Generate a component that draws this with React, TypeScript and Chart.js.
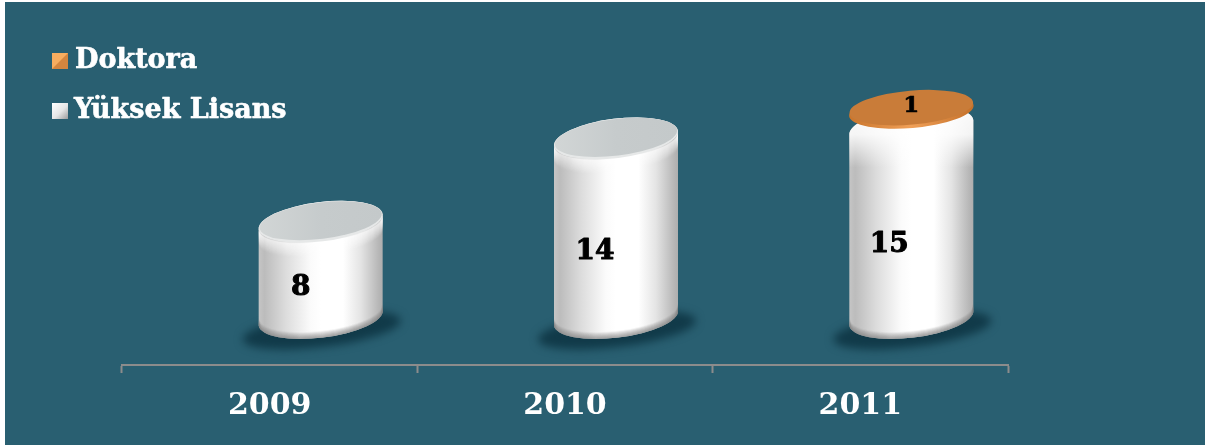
import React, { useEffect, useRef } from "react";
import { Chart, registerables } from "chart.js";

Chart.register(...registerables);

const years = ["2009", "2010", "2011"];
const yuksekLisans = [8, 14, 15];
const doktora = [null, null, 1];

const FONT = '"DejaVu Serif", serif';
const PANEL = "#295f71";

// Oblique projection of the columns relative to the category band
const DEPTH_X = 51;
const DEPTH_TOP = -32;
const DEPTH_BOTTOM = -47;
const TILT = (-7 * Math.PI) / 180;
const RY = 19.7;
// A column carrying a disc starts a little lower, so only its shoulders show
const CAPPED_DROP = 3;

// Nudges of the value labels from the centre of their column
const lisansLabelShift = [[-20, 18], [-21, 24], [-22, 23]];
const doktoraLabelShift = [null, null, [0, -5]];

type Ctx = CanvasRenderingContext2D;

function heavyText(ctx: Ctx, text: string, x: number, y: number, weight: number) {
  ctx.lineWidth = weight;
  ctx.lineJoin = "round";
  ctx.strokeText(text, x, y);
  ctx.fillText(text, x, y);
}

function bodyPath(ctx: Ctx, cx: number, top: number, bottom: number, rx: number) {
  ctx.beginPath();
  ctx.ellipse(cx, bottom, rx, RY, TILT, 0, Math.PI);
  ctx.ellipse(cx, top, rx, RY, TILT, Math.PI, Math.PI * 2);
  ctx.closePath();
}

function drawShadow(ctx: Ctx, cx: number, bottom: number, rx: number) {
  ctx.save();
  ctx.filter = "blur(4px)";
  ctx.fillStyle = "#113a49";
  ctx.beginPath();
  ctx.ellipse(cx + 1, bottom + 12, rx + 17, 17, TILT, 0, Math.PI * 2);
  ctx.fill();
  ctx.restore();
}

function drawColumn(ctx: Ctx, cx: number, top: number, bottom: number, rx: number, capped: boolean) {
  const g = ctx.createLinearGradient(cx - rx, 0, cx + rx, 0);
  g.addColorStop(0, "#c6c6c6");
  g.addColorStop(0.05, "#bcbcbc");
  g.addColorStop(0.22, "#dcdcdc");
  g.addColorStop(0.42, "#fbfbfb");
  g.addColorStop(0.5, "#ffffff");
  g.addColorStop(0.68, "#ffffff");
  g.addColorStop(0.82, "#e4e4e4");
  g.addColorStop(0.96, "#b8b8b8");
  g.addColorStop(1, "#adadad");
  ctx.save();
  bodyPath(ctx, cx, top, bottom, rx);
  ctx.fillStyle = g;
  ctx.fill();
  ctx.clip();

  if (capped) {
    // White shoulder fading down into the shaded side
    const veil = ctx.createLinearGradient(0, top - 20, 0, top + 40);
    veil.addColorStop(0, "rgba(255,255,255,0.95)");
    veil.addColorStop(0.45, "rgba(255,255,255,0.85)");
    veil.addColorStop(1, "rgba(255,255,255,0)");
    ctx.fillStyle = veil;
    ctx.fillRect(cx - rx - 1, top - 30, rx * 2 + 2, 70);
  }

  // Soft bevels along the lower rim and under the upper rim
  for (let i = 0; i < 7; i++) {
    ctx.strokeStyle = `rgba(130,130,130,${0.6 - i * 0.085})`;
    ctx.lineWidth = 1.5;
    ctx.beginPath();
    ctx.ellipse(cx, bottom - i, rx, RY, TILT, 0, Math.PI);
    ctx.stroke();
  }
  if (!capped) {
    for (let i = 0; i < 14; i++) {
      ctx.strokeStyle = `rgba(255,255,255,${0.5 - i * 0.036})`;
      ctx.lineWidth = 1.5;
      ctx.beginPath();
      ctx.ellipse(cx, top + 1 + i, rx, RY, TILT, 0, Math.PI);
      ctx.stroke();
    }
  }
  ctx.restore();

  if (!capped) {
    const face = ctx.createLinearGradient(cx - rx, top, cx + rx, top);
    face.addColorStop(0, "#d2d6d6");
    face.addColorStop(0.5, "#c6cbcc");
    face.addColorStop(1, "#c4c9ca");
    ctx.fillStyle = "#e6e8e8";
    ctx.beginPath();
    ctx.ellipse(cx, top, rx, RY, TILT, 0, Math.PI * 2);
    ctx.fill();
    ctx.fillStyle = face;
    ctx.beginPath();
    ctx.ellipse(cx, top - 1, rx - 1, RY - 1.5, TILT, 0, Math.PI * 2);
    ctx.fill();
  }
}

function drawDisc(ctx: Ctx, cx: number, top: number, rx: number) {
  const ry = 17.5;
  const tilt = (-5 * Math.PI) / 180;
  const rim = ctx.createLinearGradient(cx - rx, 0, cx + rx, 0);
  rim.addColorStop(0, "#c9752c");
  rim.addColorStop(0.5, "#f0a058");
  rim.addColorStop(1, "#c47029");
  ctx.fillStyle = rim;
  ctx.beginPath();
  ctx.ellipse(cx, top + 3, rx, ry, tilt, 0, Math.PI * 2);
  ctx.fill();
  ctx.fillStyle = "#c97c39";
  ctx.beginPath();
  ctx.ellipse(cx, top, rx - 0.5, ry - 0.5, tilt, 0, Math.PI * 2);
  ctx.fill();
}

function drawLegendSwatch(ctx: Ctx, x: number, y: number, s: number, light: string, dark: string, flat: boolean) {
  if (flat) {
    const g = ctx.createLinearGradient(x, y, x + s, y + s);
    g.addColorStop(0, "#ffffff");
    g.addColorStop(0.55, "#e6e6e6");
    g.addColorStop(1, "#9c9c9c");
    ctx.fillStyle = g;
    ctx.fillRect(x, y, s, s);
    return;
  }
  ctx.fillStyle = dark;
  ctx.fillRect(x, y, s, s);
  ctx.fillStyle = light;
  ctx.beginPath();
  ctx.moveTo(x, y);
  ctx.lineTo(x + s, y);
  ctx.lineTo(x, y + s);
  ctx.closePath();
  ctx.fill();
}

const panelPlugin = {
  id: "panel",
  beforeDraw(chart: any) {
    const { ctx, width, height } = chart;
    ctx.save();
    ctx.fillStyle = "#ffffff";
    ctx.fillRect(0, 0, width, height);
    ctx.fillStyle = PANEL;
    ctx.fillRect(5, 2, 1200, 443);
    ctx.restore();
  },
};

const columnsPlugin = {
  id: "columns",
  afterDatasetsDraw(chart: any) {
    const ctx: Ctx = chart.ctx;
    const lower = chart.getDatasetMeta(0).data;
    const upper = chart.getDatasetMeta(1).data;
    ctx.save();
    lower.forEach((bar: any) => {
      drawShadow(ctx, bar.x + DEPTH_X, bar.base + DEPTH_BOTTOM, bar.width / 2);
    });
    lower.forEach((bar: any, i: number) => {
      const cx = bar.x + DEPTH_X;
      const rx = bar.width / 2;
      const capped = doktora[i] != null;
      const top = bar.y + DEPTH_TOP + (capped ? CAPPED_DROP : 0);
      const bottom = bar.base + DEPTH_BOTTOM;
      drawColumn(ctx, cx, top, bottom, rx, capped);
      if (capped) drawDisc(ctx, cx, upper[i].y + DEPTH_TOP - 3, rx);
    });

    ctx.fillStyle = "#000000";
    ctx.strokeStyle = "#000000";
    ctx.textAlign = "center";
    ctx.textBaseline = "middle";
    lower.forEach((bar: any, i: number) => {
      const cx = bar.x + DEPTH_X;
      const cy = (bar.y + DEPTH_TOP + bar.base + DEPTH_BOTTOM) / 2;
      const [dx, dy] = lisansLabelShift[i];
      ctx.font = `bold 28px ${FONT}`;
      heavyText(ctx, String(yuksekLisans[i]), cx + dx, cy + dy, 1);
      const shift = doktoraLabelShift[i];
      if (doktora[i] != null && shift) {
        ctx.font = `bold 23px ${FONT}`;
        heavyText(ctx, String(doktora[i]), cx + shift[0], upper[i].y + DEPTH_TOP + shift[1], 0.6);
      }
    });
    ctx.restore();
  },
};

const legendPlugin = {
  id: "stackLegend",
  afterDraw(chart: any) {
    const ctx: Ctx = chart.ctx;
    const items = [chart.data.datasets[1].label, chart.data.datasets[0].label];
    ctx.save();
    ctx.font = `bold 27px ${FONT}`;
    ctx.fillStyle = "#ffffff";
    ctx.strokeStyle = "#ffffff";
    ctx.textAlign = "left";
    ctx.textBaseline = "middle";
    heavyText(ctx, items[0], 75, 61, 0.6);
    heavyText(ctx, items[1], 74, 111, 0.6);
    drawLegendSwatch(ctx, 52, 53, 16, "#f8ad5f", "#d5863f", false);
    drawLegendSwatch(ctx, 52, 103, 16, "", "", true);
    ctx.restore();
  },
};

export default function App() {
  const ref = useRef<HTMLCanvasElement>(null);

  useEffect(() => {
    document.body.style.margin = "0";
    const chart = new Chart(ref.current!, {
      type: "bar",
      data: {
        labels: years,
        datasets: [
          { label: "Yüksek Lisans", data: yuksekLisans, backgroundColor: "rgba(0,0,0,0)" },
          { label: "Doktora", data: doktora, backgroundColor: "rgba(0,0,0,0)" },
        ],
      },
      options: {
        responsive: false,
        animation: false,
        events: [],
        layout: { padding: { left: 122, right: 199, top: 87, bottom: 0 } },
        datasets: { bar: { categoryPercentage: 1, barPercentage: 0.423 } },
        plugins: { legend: { display: false }, tooltip: { enabled: false }, title: { display: false } },
        scales: {
          x: {
            stacked: true,
            afterFit: (scale: any) => {
              scale.height = 80;
            },
            border: { color: "#8c8c8c", width: 2 },
            grid: {
              drawOnChartArea: false,
              drawTicks: true,
              tickLength: 8,
              tickColor: "#8c8c8c",
              tickWidth: 2,
              offset: true,
            },
            ticks: {
              color: "#ffffff",
              padding: 15,
              font: { family: FONT, size: 30, weight: "bold" },
            },
          },
          y: { stacked: true, display: false, min: 0, max: 20 },
        },
      },
      plugins: [panelPlugin, columnsPlugin, legendPlugin],
    } as any);
    return () => chart.destroy();
  }, []);

  return <canvas ref={ref} width={1207} height={445} style={{ display: "block" }} />;
}
